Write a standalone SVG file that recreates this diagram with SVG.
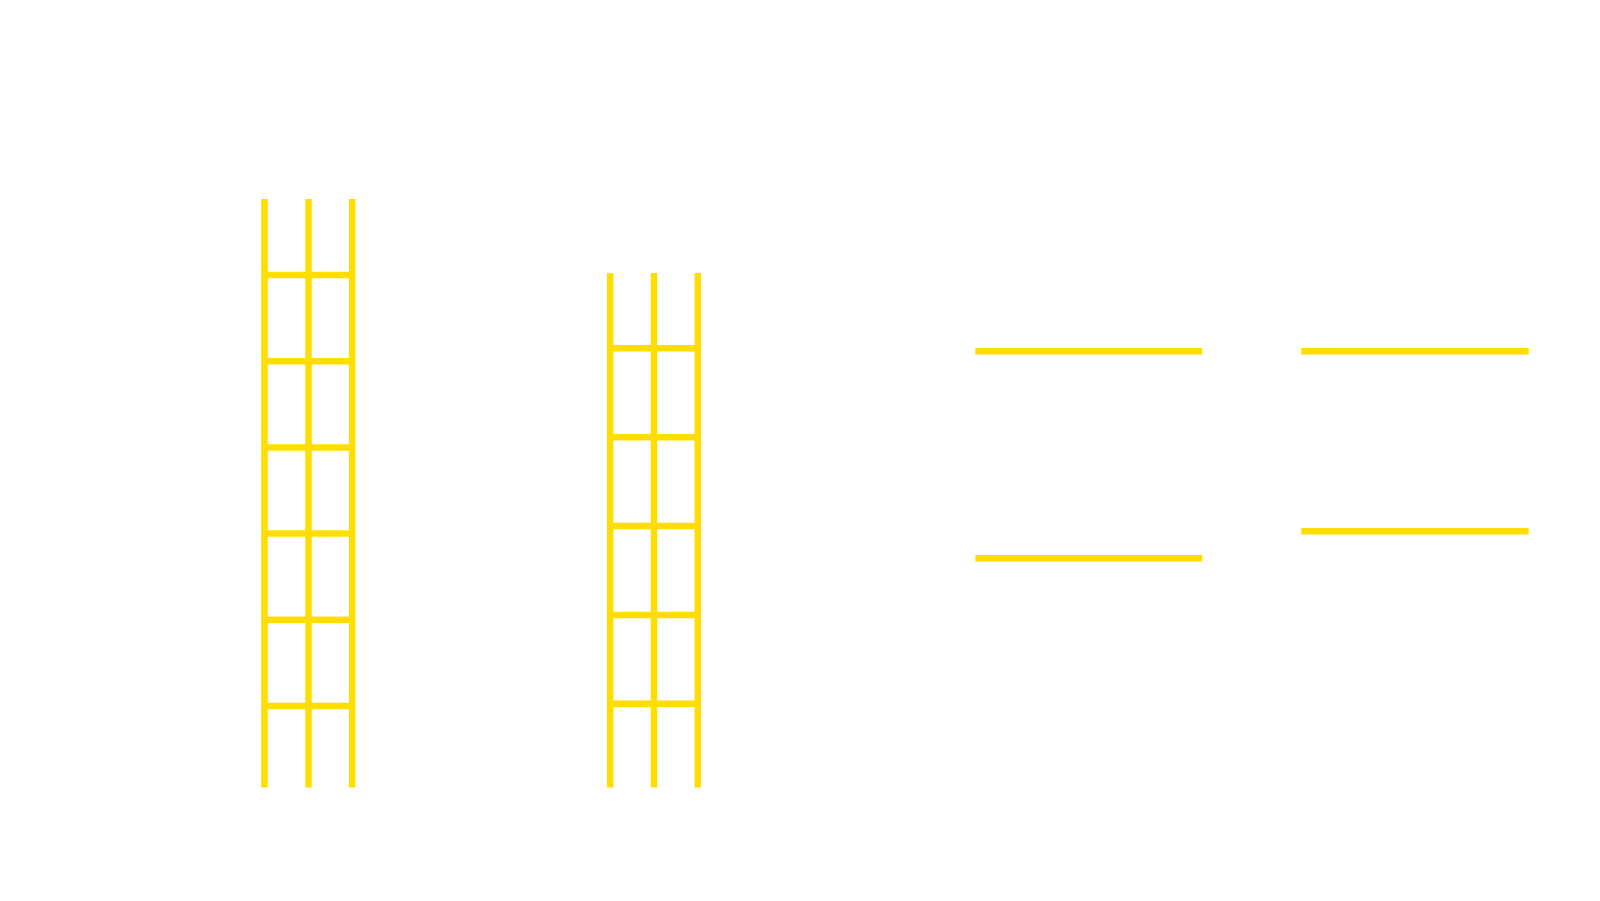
<svg xmlns="http://www.w3.org/2000/svg" width="1600" height="901" viewBox="0 0 1600 901">
<style>
.y{stroke:#FFDD00;stroke-width:6.5;fill:none}
</style>
<rect width="1600" height="901" fill="#ffffff"/>
<g id="ladder1" class="y">
<line x1="264.5" y1="199" x2="264.5" y2="787.5"/>
<line x1="308.5" y1="199" x2="308.5" y2="787.5"/>
<line x1="352.2" y1="199" x2="352.2" y2="787.5"/>
<line x1="264.5" y1="275" x2="352.2" y2="275"/>
<line x1="264.5" y1="361.2" x2="352.2" y2="361.2"/>
<line x1="264.5" y1="447.4" x2="352.2" y2="447.4"/>
<line x1="264.5" y1="533.6" x2="352.2" y2="533.6"/>
<line x1="264.5" y1="619.8" x2="352.2" y2="619.8"/>
<line x1="264.5" y1="706" x2="352.2" y2="706"/>
</g>
<g id="ladder2" class="y">
<line x1="610.2" y1="273" x2="610.2" y2="787.5"/>
<line x1="654" y1="273" x2="654" y2="787.5"/>
<line x1="697.8" y1="273" x2="697.8" y2="787.5"/>
<line x1="610.2" y1="348.3" x2="697.8" y2="348.3"/>
<line x1="610.2" y1="437.2" x2="697.8" y2="437.2"/>
<line x1="610.2" y1="526" x2="697.8" y2="526"/>
<line x1="610.2" y1="614.9" x2="697.8" y2="614.9"/>
<line x1="610.2" y1="703.7" x2="697.8" y2="703.7"/>
</g>
<g id="line1" class="y"><line x1="975.3" y1="351.3" x2="1202.3" y2="351.3"/></g>
<g id="line2" class="y"><line x1="1301.3" y1="351.3" x2="1528.7" y2="351.3"/></g>
<g id="line3" class="y"><line x1="975.3" y1="558.3" x2="1202.3" y2="558.3"/></g>
<g id="line4" class="y"><line x1="1301.3" y1="531.3" x2="1528.7" y2="531.3"/></g>
<g id="connectors"></g>
</svg>
